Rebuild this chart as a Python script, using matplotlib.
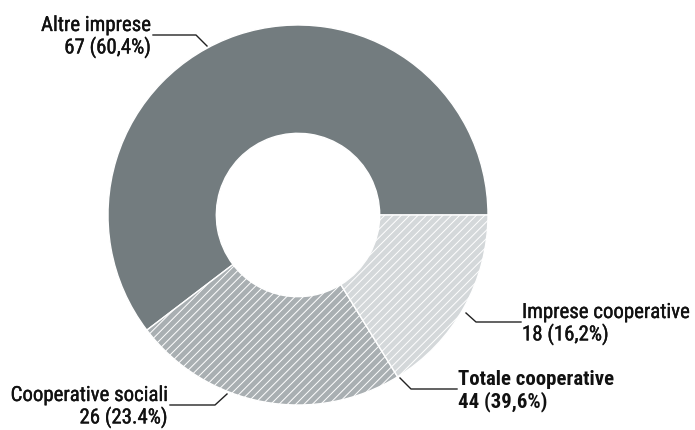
import matplotlib.pyplot as plt
import matplotlib.patheffects as pe
from matplotlib import font_manager

# Data
labels = ["Altre imprese", "Cooperative sociali", "Imprese cooperative"]
values = [67, 26, 18]
pct_text = ["67 (60,4%)", "26 (23.4%)", "18 (16,2%)"]
total_label = "Totale cooperative"
total_text = "44 (39,6%)"

colors = ["#737c7f", "#a9afb2", "#d4d8da"]
hatches = [None, "////", "////"]

names = {f.name for f in font_manager.fontManager.ttflist}
fam = [f for f in ["Liberation Sans Narrow", "Roboto Condensed", "Roboto"] if f in names] + ["DejaVu Sans"]
plt.rcParams["font.family"] = fam
plt.rcParams["hatch.linewidth"] = 0.7

W, H = 695, 430
fig = plt.figure(figsize=(W / 100, H / 100), dpi=100)
ax = fig.add_axes([0, 0, 1, 1])

cx, cy, r = 298, H - 215, 190
wedges, _ = ax.pie(values, colors=colors, startangle=0, counterclock=True,
                   center=(cx, cy), radius=r, frame=True,
                   wedgeprops=dict(width=r * 0.57, edgecolor="white", linewidth=1))
for w, h in zip(wedges, hatches):
    if h:
        w.set_hatch(h)
ax.set_xlim(0, W)
ax.set_ylim(0, H)
ax.set_aspect("equal")
ax.axis("off")

fs = 15
lc = "#222222"
tc = "#111111"
semi = [pe.withStroke(linewidth=0.25, foreground=tc)]

def py(y):
    return H - y

# Altre imprese
ax.plot([153, 196, 207], [py(35), py(35), py(46)], color=lc, lw=1)
ax.text(151, py(35), labels[0], ha="right", va="bottom", fontsize=fs, color=tc, path_effects=semi)
ax.text(151, py(37), pct_text[0], ha="right", va="top", fontsize=fs, color=tc, path_effects=semi)

# Imprese cooperative
ax.plot([466, 476, 521], [py(313), py(322), py(322)], color=lc, lw=1)
ax.text(522, py(322), labels[2], ha="left", va="bottom", fontsize=fs, color=tc, path_effects=semi)
ax.text(522, py(324), pct_text[2], ha="left", va="top", fontsize=fs, color=tc, path_effects=semi)

# Totale cooperative
ax.plot([400, 411, 457], [py(378), py(389), py(389)], color=lc, lw=1)
ax.text(458, py(389), total_label, ha="left", va="bottom", fontsize=fs, color=tc, fontweight="bold")
ax.text(458, py(391), total_text, ha="left", va="top", fontsize=fs, color=tc, fontweight="bold")

# Cooperative sociali
ax.plot([170, 215, 227], [py(405), py(405), py(394)], color=lc, lw=1)
ax.text(168, py(405), labels[1], ha="right", va="bottom", fontsize=fs, color=tc, path_effects=semi)
ax.text(168, py(407), pct_text[1], ha="right", va="top", fontsize=fs, color=tc, path_effects=semi)

fig.savefig("out.png", dpi=100, facecolor="white")
